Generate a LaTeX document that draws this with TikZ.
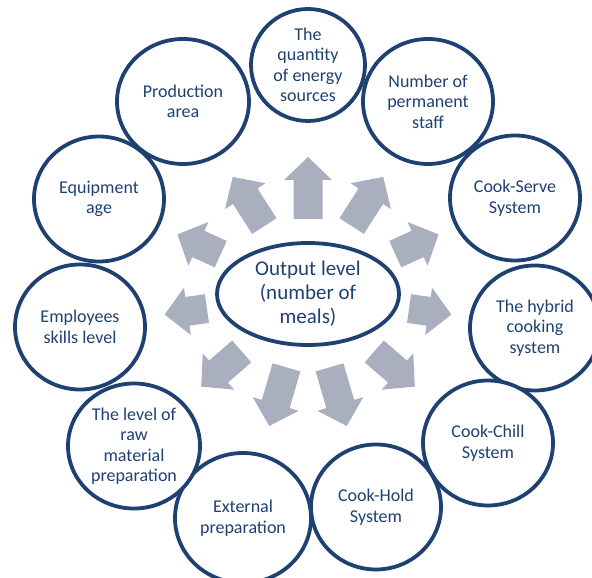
\documentclass[tikz,border=0pt]{standalone}
\usepackage{fontspec}
\setmainfont{Carlito}
\usetikzlibrary{shapes.geometric}
\definecolor{ringblue}{RGB}{31,65,114}
\definecolor{flowgray}{RGB}{170,175,191}
\tikzset{
  factor/.style={draw=ringblue, line width=3.8pt, fill=white, ellipse, inner sep=0pt,
    minimum width=130pt, minimum height=125pt, align=center, text=ringblue,
    font=\fontsize{18}{20.5}\selectfont},
  flow/.style={fill=flowgray}
}
\begin{document}
\begin{tikzpicture}[x=1pt,y=1pt]
\useasboundingbox (0,0) rectangle (592,578);
\clip (0,0) rectangle (592,578);
\node[factor, minimum width=182pt, minimum height=102pt, font=\fontsize{21}{24}\selectfont](hub) at (308,284) {Output level\\(number of\\meals)};
\foreach \k in {0,...,10}{
  \pgfmathsetmacro\ang{90-\k*360/11}
  \pgfmathsetmacro\rt{103/sqrt(cos(\ang)*cos(\ang)+1.886*sin(\ang)*sin(\ang))}
  \pgfmathsetmacro\rh{145/sqrt(cos(\ang)*cos(\ang)+1.12*sin(\ang)*sin(\ang))}
  \fill[flow, shift={(hub.center)}, rotate=\ang] (\rt,-14.5) -- (\rh-23,-14.5) -- (\rh-23,-24) -- (\rh,0)
    -- (\rh-23,24) -- (\rh-23,14.5) -- (\rt,14.5) -- cycle;
}
\node[factor, minimum width=114pt, minimum height=112pt](energy) at (308,513) {The\\quantity\\of energy\\sources};
\node[factor](staff) at (428,476.5) {Number of\\permanent\\staff};
\node[factor](serve) at (515,380) {Cook-Serve\\System};
\node[factor](hybrid) at (535,250) {The hybrid\\cooking\\system};
\node[factor](chill) at (488,135) {Cook-Chill\\System};
\node[factor](hold) at (376,71) {Cook-Hold\\System};
\node[factor, minimum width=136pt, minimum height=130pt](external) at (243,60) {External\\preparation};
\node[factor, minimum width=132pt](raw) at (134,132) {The level of\\raw\\material\\preparation};
\node[factor](skills) at (80,251) {Employees\\skills level};
\node[factor](equipment) at (99,379) {Equipment\\age};
\node[factor, minimum width=132pt](production) at (183,476.5) {Production\\area};
\end{tikzpicture}
\end{document}
